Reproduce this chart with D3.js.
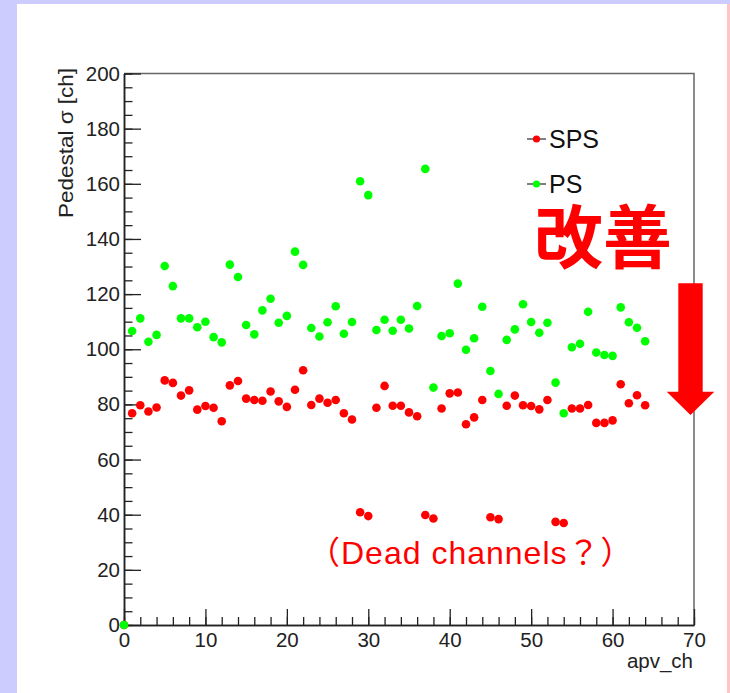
<!DOCTYPE html>
<html>
<head>
<meta charset="utf-8">
<script src="https://cdn.jsdelivr.net/npm/d3@7"></script>
<style>
  body { margin: 0; background: #ccccff; }
  svg { display: block; }
</style>
</head>
<body>
<div class="pedestal_viz"></div>
<script>
// channel numbers 0..64 (ch 0 is the empty point at the origin)
var channels = d3.range(0, 65);

// SPS pedestal sigma per channel
var sps = [0,
  76.8, 79.7, 77.4, 78.9, 88.7, 87.8, 83.2, 85.1, 78.1, 79.4,
  78.8, 73.9, 86.9, 88.5, 82.1, 81.6, 81.3, 84.7, 81.1, 79.1,
  85.3, 92.4, 79.8, 82.1, 80.6, 81.6, 76.8, 74.5, 40.9, 39.5,
  78.8, 86.7, 79.5, 79.5, 77.1, 75.7, 39.9, 38.6, 78.5, 84.0,
  84.3, 72.8, 75.3, 81.6, 39.1, 38.4, 79.5, 83.2, 79.7, 79.4,
  78.2, 81.6, 37.4, 37.0, 78.5, 78.5, 79.8, 73.3, 73.3, 74.2,
  87.3, 80.4, 83.3, 79.7];

// PS pedestal sigma per channel
var ps = [0,
  106.6, 111.2, 102.7, 105.2, 130.2, 122.9, 111.2, 111.2, 108.0, 110.0,
  104.4, 102.5, 130.7, 126.2, 108.8, 105.4, 114.1, 118.3, 109.6, 112.1,
  135.4, 130.6, 107.7, 104.6, 109.8, 115.6, 105.6, 109.9, 160.9, 155.9,
  107.0, 110.7, 106.7, 110.7, 107.5, 115.7, 165.4, 86.1, 104.8, 105.8,
  123.8, 99.8, 104.0, 115.4, 92.1, 83.8, 103.4, 107.2, 116.3, 109.9,
  106.0, 109.6, 87.9, 76.8, 100.7, 102.0, 113.6, 98.8, 97.9, 97.6,
  115.2, 109.8, 107.8, 102.9];

var seriesNames = ["SPS", "PS"];
var seriesColors = ["#ff0000", "#00ff00"];
var yTicks = d3.range(0, 201, 20);
var xTicks = d3.range(0, 71, 10);

var width = 730, height = 693;
var svg = d3.select(".pedestal_viz").append("svg")
  .attr("width", width)
  .attr("height", height);

// page frame
svg.append("rect").attr("x", 0).attr("y", 0).attr("width", width).attr("height", height).attr("fill", "#ccccff");
svg.append("rect").attr("x", 17).attr("y", 4).attr("width", 710).attr("height", height - 4).attr("fill", "#ffffff");
svg.append("rect").attr("x", 727).attr("y", 4).attr("width", 3).attr("height", height - 4).attr("fill", "#ffc4c4");

var x = d3.scaleLinear().domain([0, 70]).range([124, 694]);
var y = d3.scaleLinear().domain([0, 200]).range([625, 73.5]);

var font = "'Liberation Sans', Arial, sans-serif";

// plot frame (top/right)
svg.append("path")
  .attr("d", "M" + x(0) + "," + y(200) + "H" + x(70) + "V" + y(0))
  .attr("fill", "none").attr("stroke", "#666").attr("stroke-width", 1.5);

// y axis, ROOT style ticks pointing inside
var gy = svg.append("g").attr("transform", "translate(" + x(0) + ",0)");
gy.call(d3.axisLeft(y).tickValues(d3.range(0, 201, 5)).tickSize(-8.5).tickSizeOuter(0).tickFormat(""));
gy.append("g").call(d3.axisLeft(y).tickValues(yTicks).tickSize(-17).tickSizeOuter(0).tickPadding(4));
gy.selectAll("text").attr("font-family", font).attr("font-size", 20.5).attr("fill", "#222");

var gx = svg.append("g").attr("transform", "translate(0," + y(0) + ")");
gx.call(d3.axisBottom(x).tickValues(d3.range(0, 71, 2)).tickSize(-8).tickSizeOuter(0).tickFormat(""));
gx.append("g").call(d3.axisBottom(x).tickValues(xTicks).tickSize(-16).tickSizeOuter(0).tickPadding(7));
gx.selectAll("text").attr("font-family", font).attr("font-size", 20.5).attr("fill", "#222");

svg.selectAll(".domain").attr("stroke", "#222").attr("stroke-width", 1.5);
svg.selectAll(".tick line").attr("stroke", "#222").attr("stroke-width", 1.3);

// axis titles
svg.append("text")
  .attr("transform", "translate(73,68) rotate(-90)")
  .attr("text-anchor", "end")
  .attr("font-family", font).attr("font-size", 21).attr("fill", "#222")
  .attr("textLength", 150).attr("lengthAdjust", "spacingAndGlyphs")
  .text("Pedestal σ [ch]");
svg.append("text")
  .attr("x", 693).attr("y", 668)
  .attr("text-anchor", "end")
  .attr("font-family", font).attr("font-size", 20.5).attr("fill", "#222")
  .text("apv_ch");

// data points, SPS first so PS sits on top
var series = [sps, ps];
series.forEach(function(vals, i) {
  svg.append("g").selectAll("circle")
    .data(channels)
    .join("circle")
    .attr("cx", function(d) { return x(d); })
    .attr("cy", function(d) { return y(vals[d]); })
    .attr("r", 4.3)
    .attr("fill", seriesColors[i]);
});

// legend
var legY = [139, 184];
seriesNames.forEach(function(name, i) {
  var g = svg.append("g");
  g.append("line").attr("x1", 527).attr("x2", 546).attr("y1", legY[i]).attr("y2", legY[i])
    .attr("stroke", "#555").attr("stroke-width", 1.5);
  g.append("circle").attr("cx", 536.5).attr("cy", legY[i]).attr("r", 3.6).attr("fill", seriesColors[i]);
  g.append("text").attr("x", 549).attr("y", legY[i] + 9)
    .attr("font-family", font).attr("font-size", 25).attr("fill", "#111")
    .text(name);
});

// annotations
svg.append("text")
  .attr("x", 534).attr("y", 263)
  .attr("font-family", "'Noto Sans CJK JP', sans-serif").attr("font-weight", "bold")
  .attr("font-size", 69).attr("fill", "#ff0000")
  .text("改善");

svg.append("path")
  .attr("d", "M678.3,283.3H702.7V391.7H714.3L690.5,415L666.7,391.7H678.3Z")
  .attr("fill", "#ff0000");

svg.append("text")
  .attr("x", 308).attr("y", 564)
  .attr("font-family", "'Liberation Sans', 'Noto Sans CJK JP', sans-serif")
  .attr("font-size", 32).attr("fill", "#ff0000")
  .attr("letter-spacing", 1)
  .text("（Dead channels？）");
</script>
</body>
</html>
